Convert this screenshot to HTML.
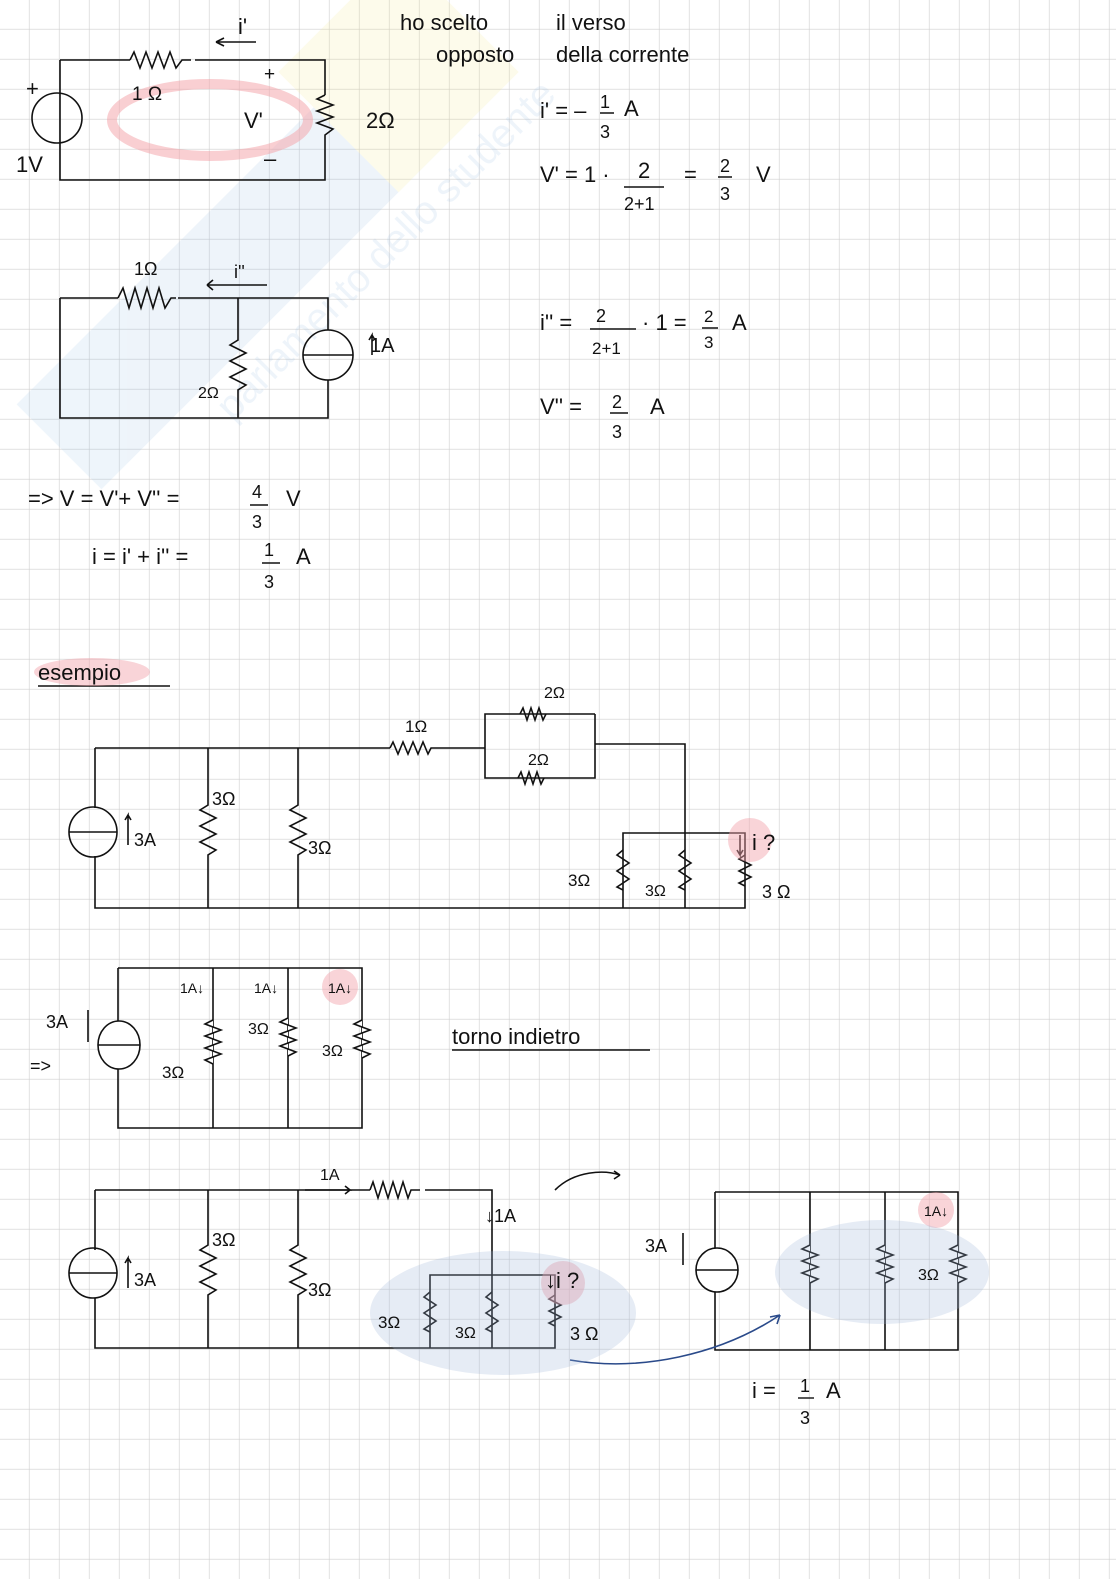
<!DOCTYPE html>
<html><head><meta charset="utf-8"><style>
html,body{margin:0;padding:0;background:#fff}
svg{display:block}
text{font-family:"Liberation Sans",sans-serif;fill:#111}
</style></head><body>
<svg width="1116" height="1579" viewBox="0 0 1116 1579" xmlns="http://www.w3.org/2000/svg">
<defs>
<pattern id="g" width="30" height="30" patternUnits="userSpaceOnUse" x="-0.5" y="-0.5">
<path d="M30 0V30M0 30H30" stroke="#cfcfcf" stroke-width="1.2" fill="none"/>
</pattern>
</defs>
<rect width="1116" height="1579" fill="url(#g)"/>
<!-- watermark -->
<g transform="translate(250,270) rotate(-45)" opacity="0.13">
<rect x="-260" y="-70" width="560" height="120" fill="#7fb0e0"/>
<rect x="160" y="-120" width="170" height="170" fill="#f5e36a"/>
<text x="-120" y="95" font-size="40" style="fill:#7fb0e0">parlamento dello studente</text>
</g>
<g fill="none" stroke="#111" stroke-width="1.6">
<path d="M60 60V180H325V140M325 95V60H195M130 60H60"/>
<path d="M130 60l4-8l6 16l6-16l6 16l6-16l6 16l6-16l6 16l6-8h9"/>
<path d="M325 95l-8 4l16 6l-16 6l16 6l-16 6l16 6l-8 6v5"/>
<circle cx="57" cy="118" r="25"/>
<path d="M216 42h40M216 42l8-4M216 42l8 4"/>
<ellipse cx="210" cy="120" rx="98" ry="36" stroke="#f3a0a5" stroke-width="10" opacity="0.5"/>
<path d="M60 298V418H328V380M328 330V298H178M118 298H60"/>
<path d="M118 298l5-10l6 20l6-20l6 20l6-20l6 20l6-20l6 20l6-10h5"/>
<path d="M238 298V340l-8 5l16 8l-16 8l16 8l-16 8l16 8l-8 5V418"/>
<circle cx="328" cy="355" r="25"/><path d="M303 355h50"/>
<path d="M207 285h60M207 285l6-5M207 285l6 5"/>
<path d="M372 355v-20l-3 5M372 335l3 5"/>
<path d="M38 686h132" />
<path d="M95 748V808M95 856V908H745V833H623V908M685 908V833M685 833V744H595M595 714V778H485V714H595M485 748H440M390 748H95"/>
<path d="M390 748l3-6l5 12l5-12l5 12l5-12l5 12l5-12l5 12l3-6h9"/>
<path d="M520 714l3-6l4 12l4-12l4 12l4-12l4 12l3-6"/>
<path d="M518 778l3-6l4 12l4-12l4 12l4-12l4 12l3-6"/>
<ellipse cx="93" cy="832" rx="24" ry="25"/><path d="M69 832h48"/>
<path d="M208 748V805l-8 5l16 8l-16 8l16 8l-16 8l16 8l-8 5V908"/>
<path d="M298 748V805l-8 5l16 8l-16 8l16 8l-16 8l16 8l-8 5V908"/>
<path d="M623 850l-6 5l12 8l-12 8l12 8l-12 8l6 3"/>
<path d="M685 850l-6 5l12 8l-12 8l12 8l-12 8l6 3"/>
<path d="M745 855l-6 4l12 6l-12 6l12 6l-12 6l6 3"/>
<path d="M128 845v-30l-3 5M128 815l3 5"/>
<path d="M740 835v20l-3-5M740 855l3-5"/>
<path d="M118 968H362V1128H118V1068M118 1022V968M213 968V1128M288 968V1128M362 968V1128"/>
<ellipse cx="119" cy="1045" rx="21" ry="24" fill="#fff"/><path d="M98 1045h42"/>
<path d="M213 1020l-8 4l16 6l-16 6l16 6l-16 6l16 6l-16 6l8 4" fill="#fff"/>
<path d="M288 1018l-8 4l16 6l-16 6l16 6l-16 6l16 6l-8 4" fill="#fff"/>
<path d="M362 1020l-8 4l16 6l-16 6l16 6l-16 6l16 6l-8 4" fill="#fff"/>
<path d="M88 1042v-32"/>
<path d="M452 1050h198"/>
<path d="M95 1190V1250M95 1298V1348H555V1275H430V1348M492 1348V1190H425M370 1190H95"/>
<path d="M370 1190l3-8l5 16l5-16l5 16l5-16l5 16l5-16l5 16l3-8h9"/>
<ellipse cx="93" cy="1273" rx="24" ry="25"/><path d="M69 1273h48"/>
<path d="M208 1190V1245l-8 5l16 8l-16 8l16 8l-16 8l16 8l-8 5V1348"/>
<path d="M298 1190V1245l-8 5l16 8l-16 8l16 8l-16 8l16 8l-8 5V1348"/>
<path d="M430 1292l-6 5l12 8l-12 8l12 8l-12 8l6 3"/>
<path d="M492 1292l-6 5l12 8l-12 8l12 8l-12 8l6 3"/>
<path d="M555 1295l-6 4l12 6l-12 6l12 6l-12 6l6 3"/>
<path d="M128 1288v-30l-3 5M128 1258l3 5"/>
<path d="M305 1190h45l-5-4M350 1190l-5 4"/>
<path d="M555 1190c20-20 50-20 65-15l-6-4M620 1175l-6 4"/>
<path d="M715 1192H958V1350H715V1292M715 1248V1192M810 1192V1350M885 1192V1350"/>
<ellipse cx="717" cy="1270" rx="21" ry="22" fill="#fff"/><path d="M696 1270h42"/>
<path d="M810 1245l-8 4l16 6l-16 6l16 6l-16 6l16 6l-8 4" fill="#fff"/>
<path d="M885 1245l-8 4l16 6l-16 6l16 6l-16 6l16 6l-8 4" fill="#fff"/>
<path d="M958 1245l-8 4l16 6l-16 6l16 6l-16 6l16 6l-8 4" fill="#fff"/>
<path d="M683 1265v-32"/>
<path d="M570 1360c70 12 150-5 210-45" stroke="#2a4a8a"/>
<path d="M780 1315l-10 2M780 1315l-3 9" stroke="#2a4a8a"/>
</g>
<g fill="#f2a0a8" opacity="0.45">
<ellipse cx="92" cy="672" rx="58" ry="14"/>
<circle cx="750" cy="840" r="22"/>
<circle cx="340" cy="987" r="18"/>
<circle cx="563" cy="1283" r="22"/>
<circle cx="936" cy="1210" r="18"/>
</g>
<g fill="#9bb5d8" opacity="0.25">
<ellipse cx="503" cy="1313" rx="133" ry="62"/>
<ellipse cx="882" cy="1272" rx="107" ry="52"/>
</g>
<g font-size="22">
<text x="238" y="34">i'</text>
<text x="400" y="30">ho scelto</text><text x="556" y="30">il verso</text>
<text x="436" y="62">opposto</text><text x="556" y="62">della corrente</text>
<text x="26" y="96">+</text><text x="16" y="172">1V</text>
<text x="132" y="100" font-size="19">1 Ω</text>
<text x="264" y="80" font-size="19">+</text><text x="244" y="128">V'</text><text x="264" y="166">–</text>
<text x="366" y="128">2Ω</text>
<text x="540" y="118">i' = –</text><text x="600" y="108" font-size="18">1</text><text x="600" y="138" font-size="18">3</text><text x="624" y="116">A</text>
<text x="540" y="182">V' = 1 ·</text><text x="638" y="178">2</text><text x="624" y="210" font-size="18">2+1</text><text x="684" y="182">=</text><text x="720" y="172" font-size="18">2</text><text x="720" y="200" font-size="18">3</text><text x="756" y="182">V</text>
<path d="M624 187h40M600 113h14M718 177h14" stroke="#111" stroke-width="1.4"/>
<text x="134" y="275" font-size="18">1Ω</text><text x="234" y="278" font-size="18">i''</text>
<text x="198" y="398" font-size="16">2Ω</text>
<text x="370" y="352" font-size="20">1A</text>
<text x="540" y="330">i'' =</text><text x="596" y="322" font-size="18">2</text><text x="592" y="354" font-size="17">2+1</text><text x="642" y="330">· 1 =</text><text x="704" y="322" font-size="17">2</text><text x="704" y="348" font-size="17">3</text><text x="732" y="330">A</text>
<text x="540" y="414">V'' =</text><text x="612" y="408" font-size="18">2</text><text x="612" y="438" font-size="18">3</text><text x="650" y="414">A</text>
<path d="M590 329h46M702 328h16M610 413h18" stroke="#111" stroke-width="1.4"/>
<text x="28" y="506">=&gt; V = V'+ V'' =</text><text x="252" y="498" font-size="18">4</text><text x="252" y="528" font-size="18">3</text><text x="286" y="506">V</text>
<text x="92" y="564">i = i' + i'' =</text><text x="264" y="556" font-size="18">1</text><text x="264" y="588" font-size="18">3</text><text x="296" y="564">A</text>
<path d="M250 505h18M262 563h18" stroke="#111" stroke-width="1.4"/>
<text x="38" y="680">esempio</text>
<text x="544" y="698" font-size="16">2Ω</text><text x="405" y="732" font-size="17">1Ω</text><text x="528" y="765" font-size="16">2Ω</text>
<text x="212" y="805" font-size="18">3Ω</text><text x="134" y="846" font-size="18">3A</text><text x="308" y="854" font-size="18">3Ω</text>
<text x="568" y="886" font-size="17">3Ω</text><text x="645" y="896" font-size="16">3Ω</text><text x="752" y="850">i ?</text><text x="762" y="898" font-size="18">3 Ω</text>
<text x="180" y="993" font-size="14">1A↓</text><text x="254" y="993" font-size="14">1A↓</text><text x="328" y="993" font-size="14">1A↓</text>
<text x="46" y="1028" font-size="18">3A</text><text x="30" y="1072" font-size="18">=&gt;</text>
<text x="162" y="1078" font-size="17">3Ω</text><text x="248" y="1034" font-size="16">3Ω</text><text x="322" y="1056" font-size="16">3Ω</text>
<text x="452" y="1044">torno indietro</text>
<text x="320" y="1180" font-size="16">1A</text><text x="485" y="1222" font-size="18">↓1A</text>
<text x="212" y="1246" font-size="18">3Ω</text><text x="134" y="1286" font-size="18">3A</text><text x="308" y="1296" font-size="18">3Ω</text>
<text x="378" y="1328" font-size="17">3Ω</text><text x="455" y="1338" font-size="16">3Ω</text><text x="545" y="1288">↓i ?</text><text x="570" y="1340" font-size="18">3 Ω</text>
<text x="645" y="1252" font-size="18">3A</text><text x="924" y="1216" font-size="14">1A↓</text><text x="918" y="1280" font-size="16">3Ω</text>
<text x="752" y="1398">i =</text><text x="800" y="1392" font-size="18">1</text><text x="800" y="1424" font-size="18">3</text><text x="826" y="1398">A</text>
<path d="M798 1398h16" stroke="#111" stroke-width="1.4"/>
</g>
</svg>
</body></html>
